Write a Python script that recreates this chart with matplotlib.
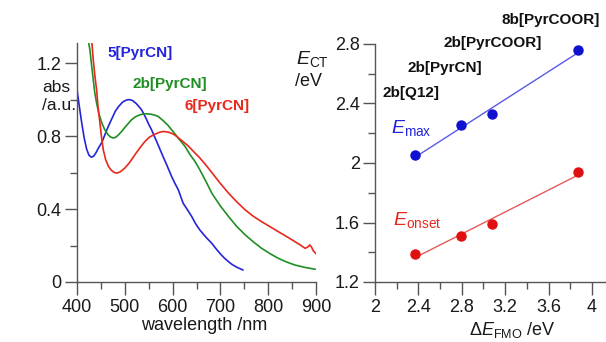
import matplotlib
matplotlib.use("Agg")
import matplotlib.pyplot as plt
import numpy as np
from matplotlib.ticker import MultipleLocator, FormatStrFormatter

plt.rcParams['font.family'] = ['Liberation Sans', 'DejaVu Sans']
plt.rcParams['mathtext.fontset'] = 'custom'
plt.rcParams['mathtext.rm'] = 'Liberation Sans'
plt.rcParams['mathtext.it'] = 'Liberation Sans:italic'
plt.rcParams['mathtext.bf'] = 'Liberation Sans:bold'

# ---- absorption spectra (wavelength nm, absorbance a.u.) ----
wl_5 = [400, 405, 410, 415, 420, 425, 430, 435, 440, 445, 452, 458, 465, 472, 480, 487, 495, 502,
        509, 516, 524, 530, 535, 542, 550, 556, 565, 577, 588, 598, 605, 612, 622, 630, 640, 648,
        657, 670, 682, 690, 699, 708, 717, 725, 735, 747]
abs_5 = [1.054, 0.96, 0.87, 0.79, 0.73, 0.695, 0.684, 0.69, 0.71, 0.735, 0.765, 0.805, 0.85, 0.89,
         0.935, 0.962, 0.985, 0.996, 1.0, 0.995, 0.978, 0.96, 0.944, 0.91, 0.865, 0.834, 0.78, 0.706,
         0.64, 0.578, 0.54, 0.505, 0.432, 0.40, 0.359, 0.32, 0.285, 0.245, 0.212, 0.185, 0.157, 0.132,
         0.111, 0.095, 0.08, 0.066]

wl_2b = [423.7, 427, 430, 434, 437, 441, 446, 452, 458, 465, 470, 476, 482, 488, 494, 500, 507, 514,
         522, 530, 538, 546, 554, 562, 570, 580, 590, 598, 607, 616, 626, 636, 647, 657, 670, 682,
         699, 717, 734, 752, 769, 786, 804, 821, 838, 856, 877, 898]
abs_2b = [1.32, 1.273, 1.2, 1.109, 1.04, 0.981, 0.92, 0.871, 0.835, 0.807, 0.795, 0.789, 0.795, 0.81,
          0.827, 0.847, 0.868, 0.889, 0.905, 0.915, 0.921, 0.922, 0.92, 0.915, 0.907, 0.885, 0.86,
          0.834, 0.805, 0.775, 0.743, 0.70, 0.66, 0.615, 0.55, 0.487, 0.42, 0.359, 0.305, 0.258, 0.22,
          0.185, 0.155, 0.130, 0.11, 0.093, 0.08, 0.07]

wl_6 = [430.6, 434, 437, 441, 444, 448, 451, 455, 460, 466, 472, 478, 483, 490, 500, 510, 521, 532,
        542, 552, 563, 572, 580, 590, 598, 605, 618, 633, 645, 657, 670, 682, 699, 717, 734, 752, 769,
        786, 804, 821, 838, 856, 866, 877, 882, 887, 891, 894, 899.4]
abs_6 = [1.33, 1.218, 1.14, 1.054, 0.96, 0.871, 0.80, 0.724, 0.67, 0.633, 0.612, 0.60, 0.597, 0.603,
         0.624, 0.655, 0.697, 0.737, 0.770, 0.795, 0.810, 0.82, 0.825, 0.822, 0.815, 0.805, 0.778,
         0.745, 0.712, 0.680, 0.640, 0.600, 0.543, 0.487, 0.44, 0.395, 0.36, 0.331, 0.303, 0.276, 0.25,
         0.221, 0.205, 0.185, 0.19, 0.203, 0.19, 0.172, 0.157]

spec_labels = ["5[PyrCN]", "2b[PyrCN]", "6[PyrCN]"]

# ---- E_CT vs dE_FMO ----
dE_fmo = [2.369, 2.794, 3.083, 3.868]
E_max = [2.051, 2.253, 2.327, 2.757]
E_onset = [1.389, 1.512, 1.591, 1.937]
cmpd_labels = ["2b[Q12]", "2b[PyrCN]", "2b[PyrCOOR]", "8b[PyrCOOR]"]

blue, green, red = '#2424dc', '#1f8f24', '#e8281c'
axcol = '#555555'
tkw = dict(labelsize=13, colors=axcol, labelcolor='#1a1a1a')

fig = plt.figure(figsize=(6.06, 3.42), dpi=100)

ax1 = fig.add_axes([77/606, 1-282/342, (316-77)/606, (282-43)/342])
ax1.plot(wl_5, abs_5, color=blue, lw=1.2)
ax1.plot(wl_2b, abs_2b, color=green, lw=1.2)
ax1.plot(wl_6, abs_6, color=red, lw=1.2)
ax1.set_xlim(400, 900)
ax1.set_ylim(0, 1.31)
ax1.xaxis.set_major_locator(MultipleLocator(100))
ax1.xaxis.set_minor_locator(MultipleLocator(50))
ax1.yaxis.set_major_locator(MultipleLocator(0.4))
ax1.yaxis.set_minor_locator(MultipleLocator(0.2))
ax1.yaxis.set_major_formatter(FormatStrFormatter('%g'))
ax1.text(464, 1.255, spec_labels[0], color=blue, fontsize=11, fontweight='bold', va='center', ha='left')
ax1.text(516, 1.085, spec_labels[1], color=green, fontsize=11, fontweight='bold', va='center', ha='left')
ax1.text(624, 0.966, spec_labels[2], color=red, fontsize=11, fontweight='bold', va='center', ha='left')

ax2 = fig.add_axes([375/606, 1-282/342, (606-375)/606, (282-44)/342])
ax2.plot(dE_fmo, E_max, 'o', color='#1010d0', ms=6.5, zorder=3)
ax2.plot(dE_fmo, E_onset, 'o', color='#e01010', ms=6.5, zorder=3)
xf = np.array([min(dE_fmo), max(dE_fmo)])
pm = np.polyfit(dE_fmo, E_max, 1)
po = np.polyfit(dE_fmo, E_onset, 1)
ax2.plot(xf, np.polyval(pm, xf), color='#5a5ae6', lw=1.0)
ax2.plot(xf, np.polyval(po, xf), color='#e85a5a', lw=1.0)
ax2.set_xlim(2, 4.13)
ax2.set_ylim(1.2, 2.8)
ax2.xaxis.set_major_locator(MultipleLocator(0.4))
ax2.xaxis.set_minor_locator(MultipleLocator(0.2))
ax2.yaxis.set_major_locator(MultipleLocator(0.4))
ax2.yaxis.set_minor_locator(MultipleLocator(0.2))
ax2.xaxis.set_major_formatter(FormatStrFormatter('%g'))
ax2.yaxis.set_major_formatter(FormatStrFormatter('%g'))
ax2.text(2.148, 2.236, r'$E_{\mathrm{max}}$', color=blue, fontsize=14, va='center', ha='left')
ax2.text(2.17, 1.618, r'$E_{\mathrm{onset}}$', color=red, fontsize=14, va='center', ha='left')

for ax in (ax1, ax2):
    for s in ('top', 'right'):
        ax.spines[s].set_visible(False)
    for s in ('left', 'bottom'):
        ax.spines[s].set_color(axcol)
        ax.spines[s].set_linewidth(1.0)
        ax.spines[s].set_clip_on(False)
    ax.tick_params(which='major', length=9, width=1.0, pad=2, **tkw)
    ax.tick_params(which='minor', length=5, width=1.0, colors=axcol)
    ax.tick_params(axis='x', which='major', pad=3)

# compound labels (figure pixel coords)
lab_pos = [(382.7, 93.3), (407.7, 68.3), (443.3, 43.3), (501.7, 20)]
for (px, py), t in zip(lab_pos, cmpd_labels):
    fig.text(px/606, 1-py/342, t, fontsize=11, fontweight='bold', color='#111111', ha='left', va='center')

fig.text(42/606, 1-88/342, 'abs', fontsize=12.5, color='#1a1a1a', ha='left', va='center')
fig.text(42/606, 1-106/342, '/a.u.', fontsize=12.5, color='#1a1a1a', ha='left', va='center')
fig.text(296/606, 1-59/342, r'$E_{\mathrm{CT}}$', fontsize=14, color='#1a1a1a', ha='left', va='center')
fig.text(295/606, 1-81/342, '/eV', fontsize=13, color='#1a1a1a', ha='left', va='center')
fig.text(204/606, 1-325/342, 'wavelength /nm', fontsize=13, color='#1a1a1a', ha='center', va='center')
fig.text(512/606, 1-330/342, r'$\Delta E_{\mathrm{FMO}}$ /eV', fontsize=13, color='#1a1a1a', ha='center', va='center')

fig.savefig('out.png', dpi=100)
